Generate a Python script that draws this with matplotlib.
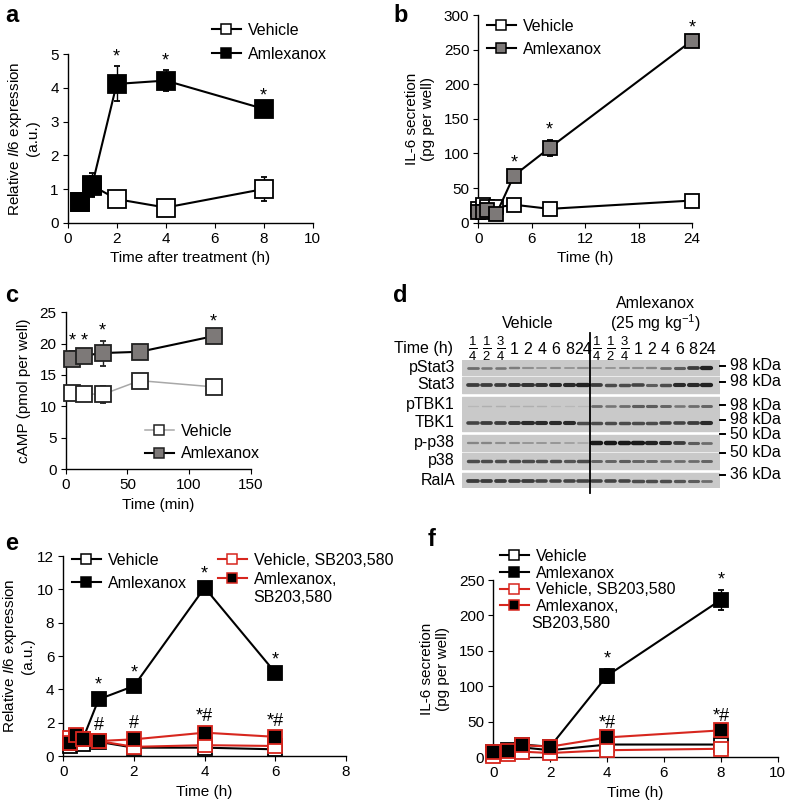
import numpy as np
import matplotlib
matplotlib.use('Agg')
import matplotlib.pyplot as plt
from matplotlib.lines import Line2D

plt.rcParams['font.family'] = ['Liberation Sans', 'DejaVu Sans']
plt.rcParams['mathtext.fontset'] = 'custom'
plt.rcParams['mathtext.rm'] = 'Liberation Sans'
plt.rcParams['mathtext.it'] = 'Liberation Sans:italic'
plt.rcParams['font.size'] = 11
plt.rcParams['axes.linewidth'] = 1.0
plt.rcParams['xtick.major.size'] = 3.5
plt.rcParams['ytick.major.size'] = 3.5

# ---- panel a: Il6 expression ----
a_time = [0.5, 1, 2, 4, 8]
a_veh = [0.62, 1.1, 0.7, 0.45, 1.0]
a_veh_err = [0.05, 0.3, 0.08, 0.05, 0.35]
a_aml = [0.62, 1.12, 4.12, 4.22, 3.38]
a_aml_err = [0.05, 0.35, 0.52, 0.3, 0.08]
a_stars = [2, 4, 8]

# ---- panel b: IL-6 secretion ----
b_time = [0, 0.5, 1, 2, 4, 8, 24]
b_veh = [20, 26, 22, 22, 26, 20, 32]
b_veh_err = [3, 3, 3, 3, 3, 3, 3]
b_aml = [16, 15, 18, 12, 68, 108, 263]
b_aml_err = [3, 3, 3, 3, 4, 12, 4]
b_stars = [4, 8, 24]

# ---- panel c: cAMP ----
c_time = [5, 15, 30, 60, 120]
c_veh = [12.2, 12.0, 11.9, 14.1, 13.1]
c_veh_err = [0.5, 0.5, 1.3, 0.5, 0.8]
c_aml = [17.6, 18.1, 18.5, 18.7, 21.2]
c_aml_err = [1.2, 0.8, 2.0, 0.5, 0.5]
c_stars = [5, 15, 30, 120]

# ---- panel d: immunoblot ----
d_proteins = ['pStat3', 'Stat3', 'pTBK1', 'TBK1', 'p-p38', 'p38', 'RalA']
d_kda = ['98 kDa', '98 kDa', '98 kDa', '98 kDa', '50 kDa', '50 kDa', '36 kDa']
d_lanes = [r'$\frac{1}{4}$', r'$\frac{1}{2}$', r'$\frac{3}{4}$', '1', '2', '4', '6', '8', '24']
d_bands = {
    'pStat3': [0.5, 0.45, 0.45, 0.4, 0.3, 0.25, 0.3, 0.25, 0.3,
               0.25, 0.25, 0.3, 0.3, 0.35, 0.5, 0.6, 0.8, 0.95],
    'Stat3': [0.8, 0.8, 0.8, 0.85, 0.85, 0.85, 0.9, 0.9, 0.95,
              0.8, 0.7, 0.7, 0.75, 0.6, 0.7, 0.9, 0.9, 0.95],
    'pTBK1': [0.05, 0.1, 0.1, 0.1, 0.1, 0.1, 0.05, 0.05, 0.05,
              0.5, 0.45, 0.5, 0.6, 0.6, 0.55, 0.45, 0.5, 0.55],
    'TBK1': [0.75, 0.8, 0.8, 0.85, 0.9, 0.9, 0.9, 0.9, 0.7,
             0.7, 0.7, 0.7, 0.7, 0.7, 0.75, 0.75, 0.8, 0.9],
    'p-p38': [0.35, 0.35, 0.3, 0.3, 0.25, 0.25, 0.25, 0.2, 0.15,
              1.0, 1.0, 1.0, 1.0, 0.95, 0.9, 0.8, 0.6, 0.5],
    'p38': [0.7, 0.7, 0.7, 0.7, 0.7, 0.7, 0.7, 0.65, 0.7,
            0.55, 0.55, 0.6, 0.55, 0.55, 0.5, 0.5, 0.5, 0.55],
    'RalA': [0.8, 0.8, 0.8, 0.8, 0.8, 0.75, 0.75, 0.75, 0.75,
             0.75, 0.75, 0.75, 0.7, 0.7, 0.7, 0.65, 0.6, 0.5],
}

# ---- panel e: Il6 expression with SB203,580 ----
e_time = [0.2, 0.37, 0.55, 1, 2, 4, 6]
e_veh = [0.6, 0.9, 0.7, 0.85, 0.5, 0.5, 0.4]
e_aml = [0.8, 1.2, 1.0, 3.4, 4.2, 10.1, 5.0]
e_aml_err = [0.1, 0.1, 0.1, 0.25, 0.2, 0.2, 0.15]
e_veh_sb = [1.1, 1.2, 1.0, 0.9, 0.55, 0.65, 0.6]
e_aml_sb = [0.8, 1.25, 1.0, 0.9, 1.0, 1.4, 1.15]
e_marks = {1: '*', 2: '*', 4: '*', 6: '*'}
e_marks_sb = {1: '#', 2: '#', 4: '*#', 6: '*#'}

# ---- panel f: IL-6 secretion with SB203,580 ----
f_time = [0, 0.5, 1, 2, 4, 8]
f_veh = [5, 8, 14, 10, 18, 18]
f_aml = [8, 10, 18, 15, 115, 222]
f_aml_err = [2, 2, 2, 2, 10, 14]
f_veh_sb = [2, 4, 8, 6, 10, 12]
f_aml_sb = [7, 9, 17, 15, 28, 38]
f_marks = {4: '*', 8: '*'}
f_marks_sb = {4: '*#', 8: '*#'}

W, H = 788, 802
fig = plt.figure(figsize=(W / 100, H / 100), dpi=100)


def box(l, t, r, b):
    return [l / W, 1 - b / H, (r - l) / W, (b - t) / H]


def style(ax):
    ax.spines['top'].set_visible(False)
    ax.spines['right'].set_visible(False)
    ax.tick_params(direction='out', labelsize=11, pad=3)


def series(ax, x, y, err, face, edge, line, ms, z, lw=1.5):
    ax.errorbar(x, y, yerr=err, color=line, ecolor=edge, elinewidth=1.0,
                capsize=2.5, capthick=1.0, marker='s', mfc=face, mec=edge,
                mew=1.3, ms=ms, lw=lw, clip_on=False, zorder=z)


def marks(ax, x, y, err, sym, off=1, fs=13):
    ax.annotate(sym, (x, y + err), xytext=(0, off), textcoords='offset points',
                ha='center', va='bottom', fontsize=fs, annotation_clip=False)


def legend(ax, handles, labels, px, py, spacing=0.45):
    ax.legend(handles, labels, loc='upper left',
              bbox_to_anchor=(px / W, 1 - py / H), bbox_transform=fig.transFigure,
              frameon=False, borderpad=0, borderaxespad=0, handlelength=1.8,
              handletextpad=0.45, labelspacing=spacing, fontsize=11.5)


def handle(face, edge, line):
    return Line2D([], [], color=line, marker='s', mfc=face, mec=edge,
                  mew=1.1, ms=7, lw=1.5)


def labels(ax, xl, yl, ypad=5):
    ax.set_xlabel(xl, fontsize=11, labelpad=4)
    ax.set_ylabel(yl, fontsize=11, labelpad=ypad)


def panel_label(px, py, s):
    fig.text(px / W, 1 - py / H, s, fontsize=17, fontweight='bold',
             ha='left', va='center')


# a
ax = fig.add_axes(box(67.7, 54.3, 312.7, 222.7))
style(ax)
series(ax, a_time, a_veh, a_veh_err, 'white', 'black', 'black', 13, 3)
series(ax, a_time, a_aml, a_aml_err, 'black', 'black', 'black', 13, 4)
for t in a_stars:
    i = a_time.index(t)
    marks(ax, t, a_aml[i], a_aml_err[i], '*')
ax.set_xlim(0, 10)
ax.set_ylim(0, 5)
ax.set_xticks(range(0, 11, 2))
ax.set_yticks(range(0, 6))
labels(ax, 'Time after treatment (h)', 'Relative $\\it{Il6}$ expression\n(a.u.)', 7)
legend(ax, [handle('white', 'black', 'black'), handle('black', 'black', 'black')],
       ['Vehicle', 'Amlexanox'], 212, 23, spacing=0.55)
panel_label(5, 15, 'a')

# b
gray = '#7d7978'
ax = fig.add_axes(box(478.3, 15, 692, 222.7))
style(ax)
series(ax, b_time, b_veh, b_veh_err, 'white', 'black', 'black', 10, 3)
series(ax, b_time, b_aml, b_aml_err, gray, 'black', 'black', 10, 4)
for t in b_stars:
    i = b_time.index(t)
    marks(ax, t, b_aml[i], b_aml_err[i], '*')
ax.set_xlim(0, 24)
ax.set_ylim(0, 300)
ax.set_xticks(range(0, 25, 6))
ax.set_yticks(range(0, 301, 50))
labels(ax, 'Time (h)', 'IL-6 secretion\n(pg per well)', 6)
legend(ax, [handle('white', 'black', 'black'), handle(gray, 'black', 'black')],
       ['Vehicle', 'Amlexanox'], 487, 19, spacing=0.5)
panel_label(393, 15, 'b')

# c
ax = fig.add_axes(box(65.7, 312.3, 250.7, 469))
style(ax)
series(ax, c_time, c_veh, c_veh_err, 'white', '#222222', '#a8a8a8', 11, 3, lw=1.1)
series(ax, c_time, c_aml, c_aml_err, gray, '#222222', 'black', 11, 4)
for t in c_stars:
    i = c_time.index(t)
    marks(ax, t, c_aml[i], c_aml_err[i] if t != 120 else 0.6, '*')
ax.set_xlim(0, 150)
ax.set_ylim(0, 25)
ax.set_xticks(range(0, 151, 50))
ax.set_yticks(range(0, 26, 5))
labels(ax, 'Time (min)', 'cAMP (pmol per well)', 6)
legend(ax, [Line2D([], [], color='#a8a8a8', marker='s', mfc='white', mec='#222222',
                   mew=1.1, ms=7, lw=1.1),
            handle(gray, '#222222', 'black')],
       ['Vehicle', 'Amlexanox'], 145, 424, spacing=0.45)
panel_label(5, 295, 'c')

# d : immunoblot
row_spans = [(0, 15), (16.7, 32.7), (37.3, 52.7), (54.3, 71), (75, 91),
             (92.7, 109.3), (112.7, 128.3)]
kda_y = [6, 21.5, 45, 60, 74.3, 92.7, 115]
ax = fig.add_axes(box(461.7, 360, 720, 488.3))
ax.set_xlim(-0.82, 17.96)
ax.set_ylim(128.3, 0)
ax.axis('off')
for name, (top, bot) in zip(d_proteins, row_spans):
    ax.axhspan(top, bot, color='#c9c9c9', zorder=1)
    mid = (top + bot) / 2
    for lane, v in enumerate(d_bands[name]):
        ax.plot([lane - 0.33, lane + 0.33], [mid + 0.5, mid + 0.5],
                color=str(0.75 - 0.65 * v), lw=0.8 + 2.4 * v,
                solid_capstyle='round', zorder=2)
    ax.text(-1.31, mid, name, ha='right', va='center', fontsize=11.5)
for lbl, y in zip(d_kda, kda_y):
    ax.plot([17.96, 18.35], [y, y], color='black', lw=1.4, clip_on=False)
    ax.text(18.69, y, lbl, ha='left', va='center', fontsize=11.5)
for k, lbl in enumerate(d_lanes * 2):
    ax.text(k, -11, lbl, ha='center', va='center',
            fontsize=13.5 if lbl.startswith('$') else 11.5)
ax.text(-1.45, -11, 'Time (h)', ha='right', va='center', fontsize=11.5)
ax.plot([8.5, 8.5], [-26.7, 132.7], color='black', lw=1.3, clip_on=False, zorder=5)
ax.text(4.0, -36.7, 'Vehicle', ha='center', va='center', fontsize=11.5)
ax.text(13.24, -56.7, 'Amlexanox', ha='center', va='center', fontsize=11.5)
ax.text(13.24, -36.7, '(25 mg kg$^{-1}$)', ha='center', va='center', fontsize=11.5)
panel_label(393, 295, 'd')

# e
red = '#d7261e'
ax = fig.add_axes(box(63.3, 556, 346, 756))
style(ax)
series(ax, e_time, e_veh, None, 'white', 'black', 'black', 9.5, 3)
series(ax, e_time, e_aml, e_aml_err, 'black', 'black', 'black', 9.5, 4)
series(ax, e_time, e_veh_sb, None, 'white', red, red, 9.5, 5)
series(ax, e_time, e_aml_sb, None, 'black', red, red, 9.5, 6)
for t, s in e_marks.items():
    i = e_time.index(t)
    marks(ax, t, e_aml[i], e_aml_err[i], s)
for t, s in e_marks_sb.items():
    i = e_time.index(t)
    marks(ax, t, e_aml_sb[i], 0.1, s, off=4)
ax.set_xlim(0, 8)
ax.set_ylim(0, 12)
ax.set_xticks(range(0, 9, 2))
ax.set_yticks(range(0, 13, 2))
labels(ax, 'Time (h)', 'Relative $\\it{Il6}$ expression\n(a.u.)', 1.5)
legend(ax, [handle('white', 'black', 'black'), handle('black', 'black', 'black')],
       ['Vehicle', 'Amlexanox'], 72, 553, spacing=0.5)
leg1 = ax.get_legend()
legend(ax, [handle('white', red, red), handle('black', red, red)],
       ['Vehicle, SB203,580', 'Amlexanox,'], 218, 553, spacing=0.25)
ax.add_artist(leg1)
fig.text(253 / W, 1 - 597 / H, 'SB203,580', fontsize=11.5, ha='left', va='center')
panel_label(5, 543, 'e')

# f
ax = fig.add_axes(box(493.3, 580, 777.7, 757.3))
style(ax)
series(ax, f_time, f_veh, None, 'white', 'black', 'black', 9.5, 3)
series(ax, f_time, f_aml, f_aml_err, 'black', 'black', 'black', 9.5, 4)
series(ax, f_time, f_veh_sb, None, 'white', red, red, 9.5, 5)
series(ax, f_time, f_aml_sb, None, 'black', red, red, 9.5, 6)
for t, s in f_marks.items():
    i = f_time.index(t)
    marks(ax, t, f_aml[i], f_aml_err[i], s)
for t, s in f_marks_sb.items():
    i = f_time.index(t)
    marks(ax, t, f_aml_sb[i], 2, s, off=3)
ax.set_xlim(0, 10)
ax.set_ylim(0, 250)
ax.set_xticks(range(0, 11, 2))
ax.set_yticks(range(0, 251, 50))
labels(ax, 'Time (h)', 'IL-6 secretion\n(pg per well)', 6)
legend(ax, [handle('white', 'black', 'black'), handle('black', 'black', 'black'),
            handle('white', red, red), handle('black', red, red)],
       ['Vehicle', 'Amlexanox', 'Vehicle, SB203,580', 'Amlexanox,'], 500, 549,
       spacing=0.1)
fig.text(531.7 / W, 1 - 624 / H, 'SB203,580', fontsize=11.5, ha='left', va='center')
panel_label(428, 540, 'f')

fig.savefig('out.png', dpi=100)
